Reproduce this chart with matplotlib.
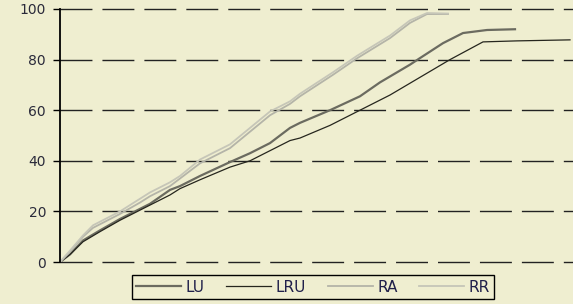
import matplotlib.pyplot as plt

plt.rcParams['font.family'] = ['DejaVu Sans']

bg = '#efeed0'

# x positions (time steps) and cumulative values
lu_x = [0, 10, 23, 40, 60, 90, 110, 120, 140, 170, 190, 210, 230, 240, 270, 300, 320, 350, 360, 383, 403, 427, 455]
lu_y = [0, 3, 8.5, 12.5, 17, 23, 28.5, 30, 34, 39.5, 43, 47, 53, 55, 60, 65.5, 71, 78, 80.6, 86.5, 90.5, 91.7, 92]

lru_x = [0, 10, 23, 40, 60, 90, 110, 120, 140, 170, 190, 210, 230, 240, 270, 300, 330, 360, 390, 423, 440, 457, 510]
lru_y = [0, 3, 8, 12, 16.5, 22.5, 26.5, 29, 32.5, 37.5, 40, 44, 48, 49, 54, 60, 66, 73, 80, 87, 87.2, 87.4, 87.8]

ra_x = [0, 10, 23, 33, 60, 80, 90, 110, 120, 140, 170, 210, 230, 240, 273, 297, 330, 350, 367, 388]
ra_y = [0, 4, 10, 13.5, 19, 23.5, 26, 30, 33, 39, 45, 58, 62.5, 65.5, 74, 80.5, 88.5, 94.5, 98, 98]

rr_x = [0, 10, 23, 33, 60, 80, 90, 110, 120, 140, 170, 210, 230, 240, 273, 297, 330, 350, 367, 388]
rr_y = [0, 4.5, 10.5, 14.5, 20, 25, 27.5, 31.5, 34, 40.5, 46.5, 59.5, 63.5, 66.5, 75, 81.5, 89.5, 95.5, 98.4, 98.2]

yticks = [0, 20, 40, 60, 80, 100]

fig = plt.figure(figsize=(5.73, 3.04), dpi=100, facecolor=bg)
ax = fig.add_axes([60/573, 42/304, 513/573, 253/304])
ax.set_facecolor(bg)

ax.plot(lu_x, lu_y, color='#6b6b60', lw=1.6, label='LU')
ax.plot(lru_x, lru_y, color='#26261e', lw=0.9, label='LRU')
ax.plot(ra_x, ra_y, color='#b4b4a8', lw=1.3, label='RA')
ax.plot(rr_x, rr_y, color='#c6c6b8', lw=1.3, label='RR')

ax.set_xlim(0, 513)
ax.set_ylim(0, 100)
ax.set_yticks(yticks)
ax.set_xticks([])
ax.tick_params(axis='y', length=5, width=1, color='black', labelsize=10,
               labelcolor='#2a2a3a', pad=5)
ax.yaxis.grid(True, color='#222222', lw=1, linestyle=(0, (23, 7.2)))
for gl in ax.get_ygridlines():
    gl.set_clip_on(False)
ax.set_axisbelow(True)
for s in ['top', 'right', 'bottom']:
    ax.spines[s].set_visible(False)
ax.spines['left'].set_color('black')
ax.spines['left'].set_linewidth(1.3)

leg = fig.legend(loc='center', bbox_to_anchor=(313/573, 17/304), ncol=4,
                 frameon=True, fancybox=False, edgecolor='black', facecolor=bg,
                 framealpha=1, fontsize=11, handlelength=2.95, columnspacing=1.4,
                 handletextpad=0.3, borderpad=0.3)
leg.get_frame().set_linewidth(1)
for t in leg.get_texts():
    t.set_color('#20204a')

fig.savefig('out.png', dpi=100, facecolor=bg)
